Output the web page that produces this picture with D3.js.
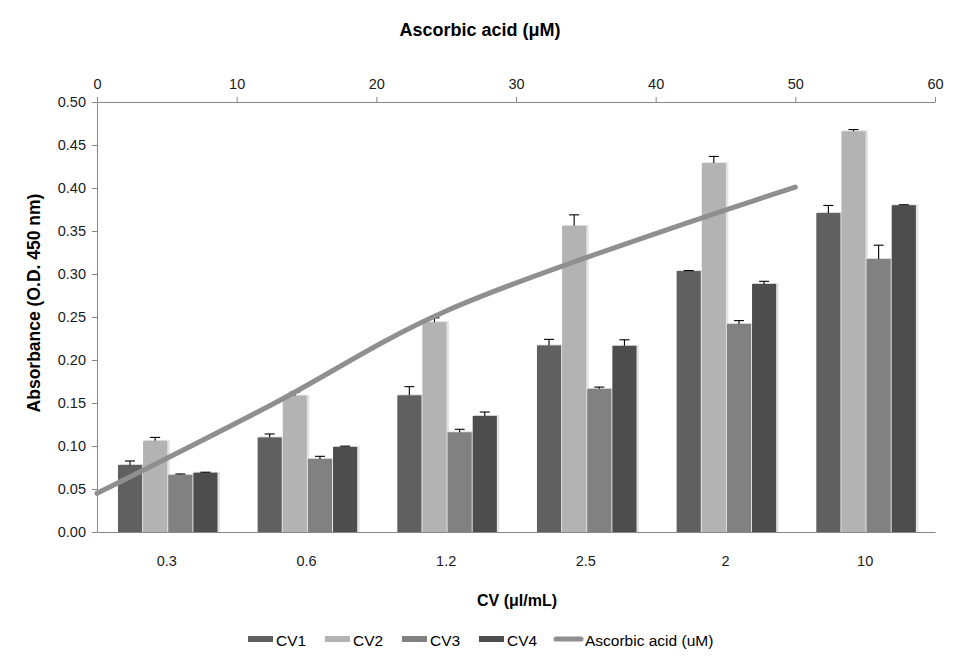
<!DOCTYPE html>
<html>
<head>
<meta charset="utf-8">
<script src="https://cdn.jsdelivr.net/npm/d3@7/dist/d3.min.js"></script>
<style>
  body { margin: 0; background: #fff; }
  svg { display: block; font-family: "Liberation Sans", Arial, sans-serif; }
</style>
</head>
<body>
<svg id="chart" width="958" height="663"></svg>
<script>
const categories = ["0.3", "0.6", "1.2", "2.5", "2", "10"];
const seriesNames = ["CV1", "CV2", "CV3", "CV4"];
const cv1 = [0.078, 0.110, 0.159, 0.217, 0.3035, 0.371];
const cv2 = [0.106, 0.1585, 0.244, 0.356, 0.429, 0.466];
const cv3 = [0.0665, 0.085, 0.116, 0.1665, 0.242, 0.3175];
const cv4 = [0.069, 0.099, 0.135, 0.2165, 0.2885, 0.380];
const cv1Err = [0.0046, 0.004, 0.010, 0.007, 0.0005, 0.0087];
const cv2Err = [0.004, 0.004, 0.005, 0.0128, 0.0077, 0.002];
const cv3Err = [0.001, 0.003, 0.0034, 0.002, 0.0038, 0.016];
const cv4Err = [0.0005, 0.0008, 0.0045, 0.007, 0.003, 0.0005];
const ascorbicX = [0, 12.5, 25, 50];
const ascorbicY = [0.045, 0.148, 0.257, 0.401];
const yTicks = [0, 0.05, 0.10, 0.15, 0.20, 0.25, 0.30, 0.35, 0.40, 0.45, 0.50];
const topTicks = [0, 10, 20, 30, 40, 50, 60];

const seriesValues = [cv1, cv2, cv3, cv4];
const seriesErrors = [cv1Err, cv2Err, cv3Err, cv4Err];
const colors = ["#606060", "#b3b3b3", "#818181", "#4d4d4d"];
const lineColor = "#8f8f8f";

const svg = d3.select("#chart");
const L = 97, R = 935, T = 102, B = 532;

const x0 = d3.scaleBand().domain(categories).range([L, R]).padding(0);
const bw = x0.bandwidth();
const x1 = d3.scaleBand().domain(seriesNames).range([bw * 0.15, bw * 0.15 + bw * 0.72]).padding(0);
const y = d3.scaleLinear().domain([0, 0.5]).range([B, T]);
const xTop = d3.scaleLinear().domain([0, 60]).range([L, R]);

// Bars
const data = [];
categories.forEach((c, i) => {
  seriesNames.forEach((s, j) => {
    data.push({ cat: c, s: s, v: seriesValues[j][i], e: seriesErrors[j][i], color: colors[j] });
  });
});

const g = svg.append("g");
const w = x1.bandwidth();
// soft right edge shadow
g.selectAll("rect.shadow").data(data).join("rect")
  .attr("class", "shadow")
  .attr("x", d => x0(d.cat) + x1(d.s) + 1.5)
  .attr("y", d => y(d.v) - 1)
  .attr("width", w)
  .attr("height", d => B - y(d.v) + 1)
  .attr("fill", "#e3e3e3");
g.selectAll("rect.bar").data(data).join("rect")
  .attr("class", "bar")
  .attr("x", d => x0(d.cat) + x1(d.s))
  .attr("y", d => y(d.v))
  .attr("width", w - 1)
  .attr("height", d => B - y(d.v))
  .attr("fill", d => d.color);

// Error bars (upper only)
const eg = svg.append("g").attr("stroke", "#000").attr("stroke-width", 1.1);
data.forEach(d => {
  const cx = x0(d.cat) + x1(d.s) + (w - 1) / 2;
  eg.append("line").attr("x1", cx).attr("x2", cx).attr("y1", y(d.v)).attr("y2", y(d.v + d.e));
  eg.append("line").attr("x1", cx - 5).attr("x2", cx + 5).attr("y1", y(d.v + d.e)).attr("y2", y(d.v + d.e));
});

// Axes
const axisColor = "#868686";
const yAxis = svg.append("g").attr("transform", `translate(${L},0)`)
  .call(d3.axisLeft(y).tickValues(yTicks).tickFormat(d3.format(".2f")).tickSize(5).tickSizeOuter(0));
const xTopAxis = svg.append("g").attr("transform", `translate(0,${T})`)
  .call(d3.axisTop(xTop).tickValues(topTicks).tickFormat(d3.format("d")).tickSize(5).tickSizeOuter(0));
const xAxis = svg.append("g").attr("transform", `translate(0,${B})`)
  .call(d3.axisBottom(x0).tickSize(0).tickSizeOuter(0));

[yAxis, xTopAxis, xAxis].forEach(a => {
  a.select(".domain").attr("stroke", axisColor);
  a.selectAll(".tick line").attr("stroke", axisColor);
  a.selectAll(".tick text").attr("fill", "#1a1a1a").attr("font-size", 14.5)
    .attr("font-family", "'Liberation Sans', Arial, sans-serif");
});
yAxis.selectAll(".tick text").attr("x", -11);
xTopAxis.selectAll(".tick text").attr("y", -13);
xAxis.selectAll(".tick text").attr("y", 24);

// Line (secondary top axis)
const linePts = ascorbicX.map((v, i) => [xTop(v), y(ascorbicY[i])]);
svg.append("path")
  .attr("d", d3.line().curve(d3.curveCatmullRom.alpha(0.5))(linePts))
  .attr("fill", "none").attr("stroke", lineColor).attr("stroke-width", 5)
  .attr("stroke-linecap", "round").attr("stroke-linejoin", "round");

// Titles
svg.append("text").attr("x", 480).attr("y", 36).attr("text-anchor", "middle")
  .attr("font-size", 18).attr("font-weight", "bold").attr("fill", "#000")
  .text("Ascorbic acid (μM)");
svg.append("text").attr("transform", "translate(40,303) rotate(-90)").attr("text-anchor", "middle")
  .attr("font-size", 17.5).attr("font-weight", "bold").attr("fill", "#000")
  .text("Absorbance (O.D. 450 nm)");
svg.append("text").attr("x", 517).attr("y", 606).attr("text-anchor", "middle")
  .attr("font-size", 16).attr("font-weight", "bold").attr("fill", "#000")
  .text("CV (μl/mL)");

// Legend
const legendItems = [
  { name: "CV1", type: "bar", color: colors[0], x: 248 },
  { name: "CV2", type: "bar", color: colors[1], x: 325 },
  { name: "CV3", type: "bar", color: colors[2], x: 402 },
  { name: "CV4", type: "bar", color: colors[3], x: 479 },
  { name: "Ascorbic acid (uM)", type: "line", color: lineColor, x: 554 }
];
const lg = svg.append("g");
legendItems.forEach(it => {
  if (it.type === "bar") {
    lg.append("rect").attr("x", it.x).attr("y", 636).attr("width", 25).attr("height", 6).attr("fill", it.color);
    lg.append("text").attr("x", it.x + 28).attr("y", 646).attr("font-size", 15.5).attr("fill", "#000").text(it.name);
  } else {
    lg.append("line").attr("x1", it.x + 2).attr("x2", it.x + 27).attr("y1", 639).attr("y2", 639)
      .attr("stroke", it.color).attr("stroke-width", 5).attr("stroke-linecap", "round");
    lg.append("text").attr("x", it.x + 31).attr("y", 646).attr("font-size", 15.5).attr("fill", "#000").text(it.name);
  }
});
</script>
</body>
</html>
